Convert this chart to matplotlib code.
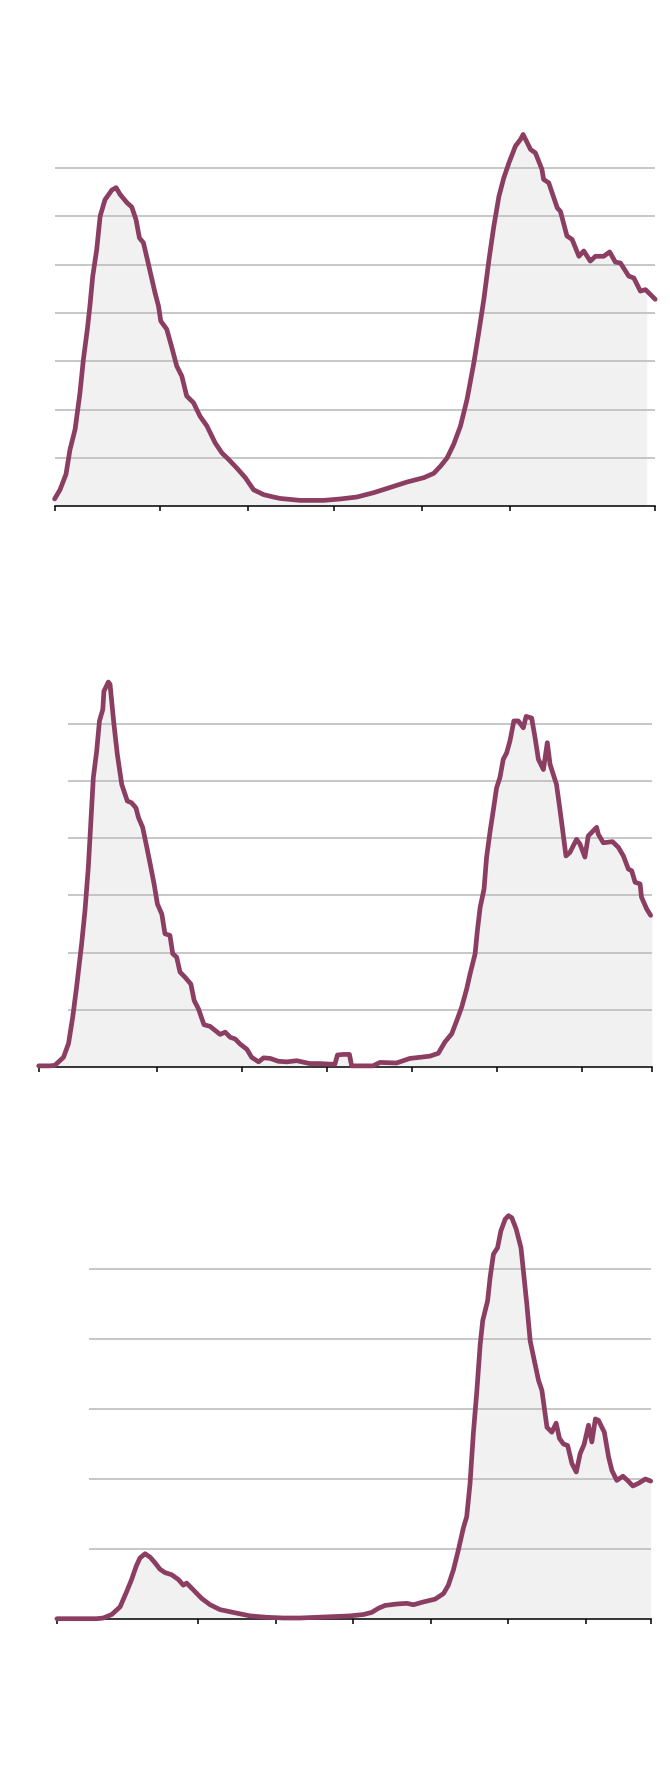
import numpy as np
import matplotlib
matplotlib.use("Agg")
import matplotlib.pyplot as plt

# ---------------- data (day index, value in gridline units) ----------------
p1_days = [0, 1.9, 4, 5.4, 7.2, 8.9, 10.1, 11.5, 12.4, 13.4, 14.8, 16, 17.7, 20.1, 21.6,
           23, 25.4, 27.1, 28.6, 29.8, 31.2, 32.6, 34.2, 35.3, 36.5, 37.3, 39.4, 41.2,
           42.9, 44.7, 46.4, 48.8, 51.1, 53.5, 56.4, 58.8, 61.1, 64, 67, 69.9, 73.4,
           76.9, 79.3, 86.3, 94.5, 100.4, 106.2, 112.1, 118, 123.8, 129.7, 133.2,
           135.6, 137.9, 140.2, 142.6, 144.9, 147.3, 149, 150.8, 152.6, 154.3, 156.1,
           157.8, 159.6, 161.9, 163.7, 164.6, 167.2, 168.9, 171.2, 171.8, 173.6, 176.6,
           177.7, 180, 181.8, 184.2, 185.9, 188.2, 190, 192.9, 195, 197, 198.8, 201.7,
           203.5, 205.8, 207.6, 211]
p1_vals = [0.15, 0.34, 0.66, 1.17, 1.59, 2.34, 3.03, 3.66, 4.14, 4.76, 5.31, 6.0, 6.34,
           6.54, 6.59, 6.45, 6.28, 6.19, 5.93, 5.55, 5.45, 5.1, 4.69, 4.41, 4.14, 3.83,
           3.66, 3.28, 2.9, 2.69, 2.28, 2.14, 1.86, 1.66, 1.31, 1.1, 0.97, 0.79, 0.59,
           0.34, 0.24, 0.19, 0.16, 0.12, 0.12, 0.15, 0.19, 0.28, 0.39, 0.5, 0.59, 0.68,
           0.83, 1.0, 1.28, 1.66, 2.21, 2.97, 3.59, 4.28, 5.1, 5.79, 6.41, 6.79, 7.1,
           7.45, 7.59, 7.69, 7.38, 7.31, 6.97, 6.76, 6.69, 6.17, 6.1, 5.59, 5.52, 5.17,
           5.28, 5.07, 5.17, 5.17, 5.26, 5.05, 5.03, 4.76, 4.72, 4.45, 4.48, 4.28]

p2_days = [0, 4.1, 5.8, 8.9, 10.7, 12.2, 13.6, 15.4, 16.6, 17.8, 18.4, 19.6, 20.8, 21.8,
           23, 23.4, 25, 25.6, 27, 28.2, 29.8, 31.8, 33.3, 34.9, 35.8, 37.3, 38.8, 40,
           41.4, 42.6, 44.2, 45.3, 47.1, 48.1, 49.5, 50.7, 52.5, 54.6, 55.8, 57.3, 59.3,
           61.5, 63.3, 65.1, 66.9, 68.7, 70.5, 72.3, 74.7, 76.4, 78.9, 80.7, 83.1, 86,
           89, 92.6, 97.3, 100.9, 104.5, 106.3, 107.2, 109.3, 111.5, 112.3, 115.3,
           119.9, 122.5, 128.4, 133.2, 136.9, 140.4, 143.4, 145.8, 148.2, 150, 151.8,
           153.6, 154.8, 156.6, 157.4, 158.4, 159.8, 160.7, 162, 163.1, 164.3, 165.5,
           166.7, 167.9, 169.1, 170.5, 172.1, 173.9, 174.9, 176.9, 178.1, 179.3, 181.1,
           182.5, 183.5, 185.8, 187.1, 188.2, 189.2, 190.6, 193, 194.2, 196, 197.2, 199,
           200.2, 200.8, 202.6, 205.9, 208, 209.8, 211.6, 212.8, 214, 215.8, 216.3,
           218.2, 219.6]
p2_vals = [0.02, 0.02, 0.03, 0.17, 0.41, 0.87, 1.4, 2.15, 2.73, 3.49, 4.01, 5.06, 5.52,
           6.05, 6.25, 6.57, 6.73, 6.69, 5.99, 5.47, 4.94, 4.65, 4.62, 4.53, 4.36, 4.19,
           3.84, 3.55, 3.2, 2.85, 2.67, 2.33, 2.3, 1.98, 1.92, 1.66, 1.57, 1.45, 1.16,
           1.02, 0.74, 0.71, 0.64, 0.57, 0.61, 0.52, 0.49, 0.4, 0.31, 0.17, 0.09, 0.16,
           0.15, 0.1, 0.09, 0.11, 0.06, 0.06, 0.05, 0.05, 0.21, 0.22, 0.22, 0.02, 0.02,
           0.02, 0.08, 0.07, 0.15, 0.17, 0.19, 0.24, 0.44, 0.58, 0.81, 1.05, 1.37, 1.63,
           1.98, 2.38, 2.79, 3.11, 3.66, 4.13, 4.48, 4.88, 5.06, 5.38, 5.49, 5.7, 6.05,
           6.05, 5.93, 6.13, 6.1, 5.76, 5.38, 5.2, 5.67, 5.29, 4.94, 4.48, 4.07, 3.69,
           3.75, 3.98, 3.9, 3.67, 4.04, 4.13, 4.19, 4.07, 3.92, 3.94, 3.84, 3.69, 3.46,
           3.43, 3.23, 3.2, 2.97, 2.76, 2.65]

p3_days = [0, 15.6, 18.2, 21.5, 24.8, 27.4, 29.3, 31.1, 32.6, 34.6, 36.6, 38.5, 40.4,
           42.4, 45, 47.7, 49.6, 50.9, 53.6, 56.8, 60.1, 64, 69.2, 75.8, 82.3, 88.9,
           95.4, 102, 108.5, 115, 120.3, 123.5, 126.2, 128.8, 133.3, 137.3, 139.9, 143.8,
           148.4, 151.7, 153.6, 155.6, 157.5, 159.5, 160.8, 162.1, 163.4, 164.8, 166.1,
           167.1, 169, 170, 171.3, 172.9, 174.2, 175.9, 177.2, 178.5, 180.2, 182.1,
           183.3, 184.4, 185.7, 187.3, 189, 190.3, 192.3, 194.2, 195.9, 197.2, 198.8,
           200.4, 202.1, 203.8, 205.3, 206.9, 208.6, 209.9, 211.3, 212.5, 214.8, 216.5,
           217.8, 219.7, 222.1, 223.9, 226, 228.3, 230.9, 233]
p3_vals = [0, 0, 0.01, 0.06, 0.17, 0.39, 0.56, 0.75, 0.87, 0.93, 0.88, 0.8, 0.71, 0.66,
           0.63, 0.56, 0.48, 0.51, 0.41, 0.29, 0.2, 0.13, 0.09, 0.04, 0.02, 0.01, 0.01,
           0.02, 0.03, 0.04, 0.06, 0.09, 0.15, 0.19, 0.21, 0.22, 0.2, 0.24, 0.28, 0.36,
           0.48, 0.7, 0.98, 1.3, 1.46, 1.93, 2.65, 3.27, 3.93, 4.27, 4.55, 4.89, 5.22,
           5.31, 5.55, 5.72, 5.77, 5.74, 5.58, 5.31, 4.89, 4.5, 3.98, 3.7, 3.41, 3.27,
           2.74, 2.67, 2.8, 2.58, 2.5, 2.48, 2.22, 2.1, 2.36, 2.5, 2.77, 2.53, 2.86,
           2.84, 2.67, 2.31, 2.12, 1.98, 2.04, 1.98, 1.9, 1.94, 2.0, 1.97]

p1_ticks = [0, 37, 68, 98, 129, 160, 211]
p2_ticks = [0, 42.5, 73, 103.5, 134, 164.5, 195, 220]
p3_ticks = [0, 55.4, 85.8, 116.3, 146.7, 177.2, 207.8, 233]

p1_grid = [1, 2, 3, 4, 5, 6, 7]
p2_grid = [1, 2, 3, 4, 5, 6]
p3_grid = [1, 2, 3, 4, 5]

# ---------------- styling ----------------
LINE = "#8b3e62"
FILL = "#f1f1f1"
GRID = "#bdbdbd"

W, H = 670, 1784
fig = plt.figure(figsize=(W / 100, H / 100), dpi=100)
fig.patch.set_facecolor("white")

panels = [
    (p1_days, p1_vals, p1_ticks, p1_grid, (54.6, 655.2, 506.2, 48.34, 8.2), 0, 208),
    (p2_days, p2_vals, p2_ticks, p2_grid, (38.7, 651.8, 1067.0, 57.2, 7.2), 10.6, 220),
    (p3_days, p3_vals, p3_ticks, p3_grid, (56.9, 650.7, 1618.7, 69.85, 6.2), 12.5, 233),
]

for days, vals, ticks, grid, geom, gstart, fend in panels:
    left, right, base, unit, ytop = geom
    height = ytop * unit
    ax = fig.add_axes([left / W, (H - base) / H, (right - left) / W, height / H])
    d = np.array(days, dtype=float)
    v = np.array(vals, dtype=float)
    xmax = ticks[-1]
    ax.set_xlim(0, xmax)
    ax.set_ylim(0, ytop)

    mask = d <= fend
    fd = np.append(d[mask], fend)
    fv = np.append(v[mask], np.interp(fend, d, v))
    ax.fill_between(fd, 0, fv, color=FILL, lw=0, zorder=1)

    for g in grid:
        ax.plot([gstart, xmax], [g, g], color=GRID, lw=1.2, zorder=2,
                solid_capstyle="butt")

    ax.plot(d, v, color=LINE, lw=3.4, zorder=4, solid_joinstyle="round",
            solid_capstyle="round", clip_on=False)

    for s in ["top", "right", "left"]:
        ax.spines[s].set_visible(False)
    ax.spines["bottom"].set_color("black")
    ax.spines["bottom"].set_linewidth(1.1)
    ax.spines["bottom"].set_zorder(3)
    ax.set_xticks(ticks)
    ax.set_xticklabels([])
    ax.tick_params(axis="x", length=3.5, width=1.1, color="black", direction="out")
    ax.set_yticks([])
    ax.patch.set_visible(False)

fig.savefig("out.png", dpi=100, facecolor="white")
